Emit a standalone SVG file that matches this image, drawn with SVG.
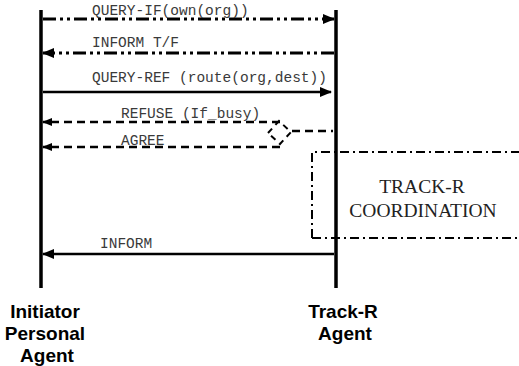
<svg xmlns="http://www.w3.org/2000/svg" width="519" height="366" viewBox="0 0 519 366">
<style>
.msg{font-family:"Liberation Mono","Courier New",monospace;font-size:14.5px;fill:#3a3a3a}
.lbl{font-family:"Liberation Sans",Arial,sans-serif;font-weight:bold;font-size:19px;fill:#000;text-anchor:middle}
.coord{font-family:"Liberation Serif","Times New Roman",serif;font-size:19.5px;fill:#222;text-anchor:middle}
.life{stroke:#000;stroke-width:3.5;fill:none}
.dd{stroke:#000;stroke-width:3;fill:none;stroke-dasharray:13 4 3 4 3 4}
.solid{stroke:#000;stroke-width:2.5;fill:none}
.dash{stroke:#000;stroke-width:2.5;fill:none;stroke-dasharray:8 5}
.dashthin{stroke:#000;stroke-width:2;fill:none;stroke-dasharray:6 5}
.dot{stroke:#000;stroke-width:2;fill:none;stroke-dasharray:9 4 2 4}
</style>
<defs>
<marker id="ah" viewBox="0 0 12 10" refX="11" refY="5" markerWidth="12" markerHeight="10" markerUnits="userSpaceOnUse" orient="auto">
<path d="M0,0 L12,5 L0,10 z" fill="#000"/>
</marker>
<marker id="ahs" viewBox="0 0 10 8" refX="9" refY="4" markerWidth="10" markerHeight="8" markerUnits="userSpaceOnUse" orient="auto">
<path d="M0,0 L10,4 L0,8 z" fill="#000"/>
</marker>
</defs>
<g id="initiator">
<line class="life" x1="41" y1="10" x2="41" y2="288"/>
<text class="lbl" x="45" y="318">Initiator</text>
<text class="lbl" x="45" y="340">Personal</text>
<text class="lbl" x="47" y="362">Agent</text>
</g>
<g id="trackr">
<line class="life" x1="336" y1="10" x2="336" y2="288"/>
<text class="lbl" x="343" y="318">Track-R</text>
<text class="lbl" x="345" y="340">Agent</text>
</g>
<g id="coordination">
<path class="dot" d="M312,238 L312,152 L519,152"/>
<path class="dot" d="M312,238 L519,238"/>
<text class="coord" x="422" y="193">TRACK-R</text>
<text class="coord" x="423" y="217">COORDINATION</text>
</g>
<g id="connectors">
<line class="dd" x1="43" y1="19" x2="334" y2="19" marker-end="url(#ah)"/>
<line class="dd" x1="334" y1="53" x2="43" y2="53" marker-end="url(#ah)"/>
<line class="solid" x1="43" y1="92" x2="331" y2="92" marker-end="url(#ah)"/>
<line class="dash" x1="280" y1="122" x2="43" y2="122" marker-end="url(#ahs)"/>
<line class="dash" x1="280" y1="147" x2="43" y2="147" marker-end="url(#ahs)"/>
<polygon class="dashthin" points="268,133 279,121 291,132 280,144"/>
<line class="dash" x1="292" y1="131" x2="333" y2="131"/>
<line class="solid" x1="334" y1="254" x2="43" y2="254" marker-end="url(#ah)"/>
</g>
<g id="labels">
<text class="msg" x="92" y="15">QUERY-IF(own(org))</text>
<text class="msg" x="92" y="47">INFORM T/F</text>
<text class="msg" x="92" y="82">QUERY-REF (route(org,dest))</text>
<text class="msg" x="121" y="118">REFUSE (If_busy)</text>
<text class="msg" x="121" y="145">AGREE</text>
<text class="msg" x="100" y="248">INFORM</text>
</g>
</svg>
